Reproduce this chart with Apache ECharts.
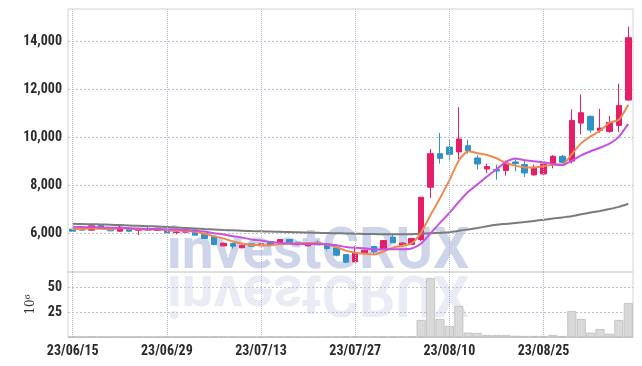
<!DOCTYPE html>
<html>
<head>
<meta charset="utf-8">
<script src="https://cdn.jsdelivr.net/npm/echarts@6/dist/echarts.min.js"></script>
<style>
  html, body { margin: 0; padding: 0; background: #fff; }
  #chart { width: 642px; height: 366px; }
</style>
</head>
<body>
<div id="chart"></div>
<script>
const dates = [
  "23/06/15", "23/06/16", "23/06/19", "23/06/20", "23/06/21", "23/06/22", "23/06/23", "23/06/26", "23/06/27", "23/06/28",
  "23/06/29", "23/06/30", "23/07/03", "23/07/04", "23/07/05", "23/07/06", "23/07/07", "23/07/10", "23/07/11", "23/07/12",
  "23/07/13", "23/07/14", "23/07/17", "23/07/18", "23/07/19", "23/07/20", "23/07/21", "23/07/24", "23/07/25", "23/07/26",
  "23/07/27", "23/07/28", "23/07/31", "23/08/01", "23/08/02", "23/08/03", "23/08/04", "23/08/07", "23/08/08", "23/08/09",
  "23/08/10", "23/08/11", "23/08/14", "23/08/16", "23/08/17", "23/08/18", "23/08/21", "23/08/22", "23/08/23", "23/08/24",
  "23/08/25", "23/08/28", "23/08/29", "23/08/30", "23/08/31", "23/09/01", "23/09/04", "23/09/05", "23/09/06", "23/09/07"
];
const tickLabels = ["23/06/15", "23/06/29", "23/07/13", "23/07/27", "23/08/10", "23/08/25"];
const priceTicks = [6000, 8000, 10000, 12000, 14000];
const volumeTicks = [25, 50];

const openPrices = [
  6160, 6150, 6118, 6320, 6190, 6076, 6190, 6110, 6190, 6104,
  6132, 6020, 6035, 6130, 5993, 5868, 5465, 5562, 5382, 5548,
  5465, 5646, 5576, 5729, 5618, 5465, 5618, 5548, 5382, 5104,
  4800, 5174, 5437, 5354, 5827, 5479, 5521, 5731, 7907, 9307,
  9584, 9376, 9640, 9127, 8670, 8642, 8600, 8961, 8850, 8420,
  8461, 8891, 9196, 8996, 10581, 10859, 10275, 10233, 10483, 11540
];
const closePrices = [
  6076, 6120, 6300, 6215, 6090, 6250, 6076, 6170, 6104, 6200,
  6007, 6040, 6100, 5910, 5771, 5521, 5576, 5451, 5493, 5451,
  5548, 5479, 5729, 5590, 5521, 5604, 5507, 5354, 5076, 4785,
  5174, 5285, 5215, 5687, 5590, 5576, 5773, 7491, 9307, 9113,
  9279, 9917, 9432, 8877, 8767, 8586, 8919, 8891, 8503, 8739,
  8877, 9196, 8947, 10692, 11012, 10289, 10372, 10608, 11317, 14139
];
const lowPrices = [
  6060, 6100, 6110, 6205, 6080, 6060, 6065, 5910, 6095, 6095,
  6000, 5940, 6025, 5900, 5760, 5490, 5455, 5350, 5370, 5440,
  5455, 5465, 5565, 5580, 5510, 5455, 5495, 5270, 5030, 4750,
  4790, 5160, 5100, 5340, 5575, 5440, 5510, 5662, 7463, 8891,
  9030, 9085, 9307, 8642, 8503, 8226, 8392, 8572, 8337, 8400,
  8430, 8697, 8919, 8900, 10108, 10178, 10178, 10178, 10205, 11520
];
const highPrices = [
  6175, 6165, 6310, 6330, 6200, 6300, 6200, 6190, 6310, 6215,
  6140, 6076, 6110, 6140, 6005, 5880, 5590, 5575, 5505, 5560,
  5560, 5660, 5745, 5740, 5630, 5615, 5690, 5560, 5395, 5115,
  5450, 5300, 5450, 5700, 5940, 5620, 5790, 7500, 9501, 10166,
  9889, 11247, 9889, 9238, 8891, 8850, 9016, 9113, 9002, 8850,
  8933, 9252, 9252, 11150, 11776, 10900, 11178, 10872, 12221, 14598
];
const ma5 = [
  6180, 6170, 6185, 6175, 6160, 6195, 6186, 6160, 6138, 6160,
  6111, 6104, 6090, 6051, 5966, 5868, 5776, 5646, 5562, 5498,
  5504, 5484, 5540, 5559, 5573, 5585, 5590, 5515, 5412, 5265,
  5179, 5135, 5107, 5229, 5390, 5471, 5568, 6023, 6747, 7452,
  8193, 9021, 9410, 9324, 9254, 9116, 8916, 8808, 8733, 8728,
  8786, 8841, 8852, 9290, 9745, 10027, 10262, 10595, 10720, 11345
];
const ma10 = [
  6260, 6250, 6240, 6230, 6220, 6210, 6200, 6185, 6170, 6160,
  6153, 6145, 6125, 6095, 6063, 5990, 5940, 5868, 5807, 5732,
  5686, 5630, 5593, 5561, 5536, 5544, 5537, 5528, 5486, 5419,
  5382, 5363, 5311, 5321, 5328, 5325, 5352, 5565, 5988, 6421,
  6832, 7295, 7717, 8036, 8353, 8654, 8969, 9109, 9028, 8991,
  8951, 8879, 8830, 9012, 9236, 9407, 9552, 9724, 10005, 10545
];
const maLong = [
  6385, 6375, 6365, 6355, 6345, 6330, 6315, 6300, 6285, 6270,
  6250, 6230, 6210, 6190, 6165, 6145, 6125, 6110, 6095, 6080,
  6070, 6060, 6050, 6040, 6030, 6020, 6010, 6000, 5990, 5980,
  5970, 5960, 5955, 5950, 5945, 5945, 5950, 5970, 5990, 6010,
  6035, 6090, 6150, 6210, 6280, 6340, 6380, 6420, 6460, 6505,
  6550, 6600, 6650, 6700, 6780, 6850, 6920, 7000, 7090, 7220
];
// volume, in millions of shares
const volumes = [
  0.3, 0.2, 0.4, 0.3, 0.2, 0.3, 0.2, 0.3, 0.2, 0.2,
  0.3, 0.2, 0.2, 0.3, 0.4, 0.5, 0.3, 0.3, 0.2, 0.2,
  0.2, 0.3, 0.4, 0.3, 0.2, 0.2, 0.2, 0.3, 0.4, 0.6,
  0.5, 0.3, 0.3, 0.5, 0.5, 0.3, 0.4, 17, 59, 18,
  11, 31, 4.3, 4, 2, 2, 2, 1.2, 1, 1,
  1, 2, 1, 26, 18, 4.3, 8, 3.3, 17, 34
];

const UP = "#e61e67";
const DOWN = "#2f92c8";
const LABEL_FONT = "'Liberation Sans Narrow', 'Roboto Condensed', 'DejaVu Sans Condensed', sans-serif";
const vDotted = { type: "dotted", color: "#b4b9cf", width: 1 };
const hDotted = { type: [2, 2], color: "#bcc0d4", width: 1 };

const candles = dates.map((d, i) => [openPrices[i], closePrices[i], lowPrices[i], highPrices[i]]);
const dateLines = {
  silent: true,
  symbol: ["none", "none"],
  label: { show: false },
  lineStyle: vDotted,
  emphasis: { disabled: true },
  data: tickLabels.map((d) => ({ xAxis: d })),
};

const chart = echarts.init(document.getElementById("chart"));
chart.setOption({
  animation: false,
  graphic: [
    {
      type: "text",
      x: 318,
      y: 282,
      z: 0,
      silent: true,
      style: {
        text: "investCRUX",
        font: "bold 57px Roboto",
        fill: "rgba(165,177,216,0.55)",
        align: "center",
        verticalAlign: "bottom",
      },
    },
    {
      type: "text",
      x: 318,
      y: 262,
      scaleY: -1,
      z: 0,
      silent: true,
      style: {
        text: "investCRUX",
        font: "bold 57px Roboto",
        fill: "rgba(175,185,218,0.28)",
        align: "center",
        verticalAlign: "bottom",
      },
    },
  ],
  grid: [
    { left: 68, right: 9, top: 9, height: 263, show: true, borderColor: "#d3d3d3" },
    { left: 68, right: 9, top: 272, height: 65, show: true, borderColor: "#d3d3d3" },
  ],
  xAxis: [
    {
      type: "category",
      gridIndex: 0,
      data: dates,
      axisLine: { show: false },
      axisTick: { show: false },
      axisLabel: { show: false },
      splitLine: { show: false },
    },
    {
      type: "category",
      gridIndex: 1,
      data: dates,
      axisLine: { lineStyle: { color: "#c4c4c4" } },
      axisTick: { show: false },
      splitLine: { show: false },
      axisLabel: {
        interval: (i, v) => tickLabels.includes(v),
        color: "#2b2b2b",
        fontFamily: LABEL_FONT,
        fontWeight: "bold",
        fontSize: 14,
        margin: 7,
      },
    },
  ],
  yAxis: [
    {
      type: "value",
      gridIndex: 0,
      min: 4375,
      max: 15335,
      axisLine: { show: false },
      axisTick: { show: false, customValues: priceTicks },
      axisLabel: {
        customValues: priceTicks,
        formatter: (v) => v.toLocaleString("en-US"),
        color: "#2b2b2b",
        fontFamily: LABEL_FONT,
        fontWeight: "bold",
        fontSize: 14,
        margin: 6,
      },
      splitLine: { show: true, lineStyle: hDotted },
    },
    {
      type: "value",
      gridIndex: 1,
      min: 0,
      max: 65,
      name: "10\u2076",
      nameLocation: "middle",
      nameRotate: 90,
      nameGap: 29,
      nameTextStyle: { fontFamily: "'DejaVu Serif', serif", fontSize: 12, color: "#333" },
      axisLine: { show: false },
      axisTick: { show: false, customValues: volumeTicks },
      axisLabel: {
        customValues: volumeTicks,
        color: "#2b2b2b",
        fontFamily: LABEL_FONT,
        fontWeight: "bold",
        fontSize: 14,
        margin: 6,
      },
      splitLine: { show: true, lineStyle: hDotted },
    },
  ],
  series: [
    {
      name: "price",
      type: "candlestick",
      xAxisIndex: 0,
      yAxisIndex: 0,
      data: candles,
      barWidth: 6,
      itemStyle: { color: UP, color0: DOWN, borderColor: UP, borderColor0: DOWN, borderWidth: 1 },
      markLine: dateLines,
    },
    {
      name: "MA long",
      type: "line",
      data: maLong,
      symbol: "none",
      smooth: 0.2,
      lineStyle: { color: "#7b7b7b", width: 2 },
      z: 3,
    },
    {
      name: "MA5",
      type: "line",
      data: ma5,
      symbol: "none",
      smooth: 0.2,
      lineStyle: { color: "#ef8a4e", width: 2 },
      z: 3,
    },
    {
      name: "MA10",
      type: "line",
      data: ma10,
      symbol: "none",
      smooth: 0.2,
      lineStyle: { color: "#c651e2", width: 2 },
      z: 3,
    },
    {
      name: "volume",
      type: "bar",
      xAxisIndex: 1,
      yAxisIndex: 1,
      data: volumes,
      barCategoryGap: "4%",
      itemStyle: { color: "#d9d9d9", borderColor: "#bdbdbd", borderWidth: 0.8 },
      markLine: dateLines,
    },
  ],
});
</script>
</body>
</html>
